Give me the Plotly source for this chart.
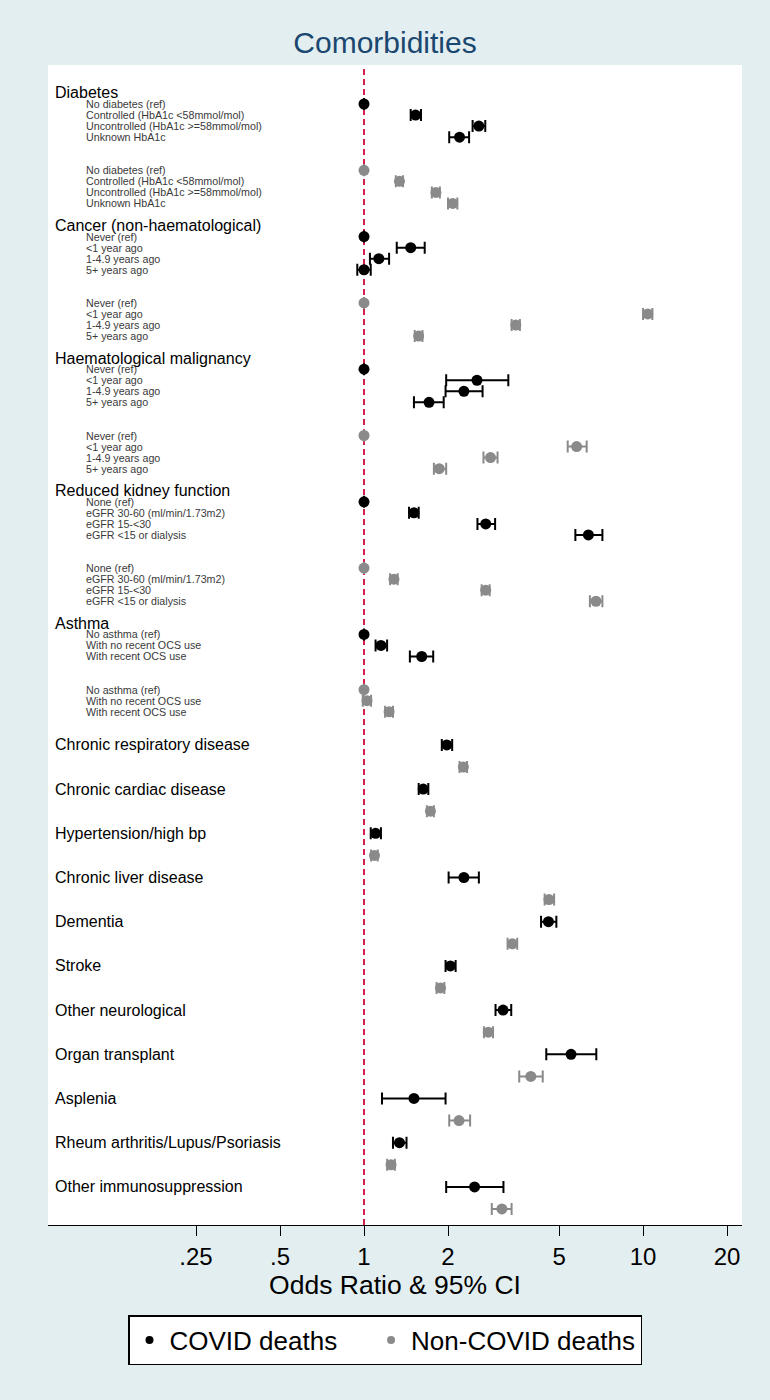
import plotly.graph_objects as go

# ---------------- data ----------------
group_headers = ["Diabetes", "Cancer (non-haematological)", "Haematological malignancy",
                 "Reduced kidney function", "Asthma"]
group_items = [
    ["No diabetes (ref)", "Controlled (HbA1c <58mmol/mol)", "Uncontrolled (HbA1c >=58mmol/mol)", "Unknown HbA1c"],
    ["Never (ref)", "<1 year ago", "1-4.9 years ago", "5+ years ago"],
    ["Never (ref)", "<1 year ago", "1-4.9 years ago", "5+ years ago"],
    ["None (ref)", "eGFR 30-60 (ml/min/1.73m2)", "eGFR 15-<30", "eGFR <15 or dialysis"],
    ["No asthma (ref)", "With no recent OCS use", "With recent OCS use"],
]
single_labels = ["Chronic respiratory disease", "Chronic cardiac disease", "Hypertension/high bp",
                 "Chronic liver disease", "Dementia", "Stroke", "Other neurological",
                 "Organ transplant", "Asplenia", "Rheum arthritis/Lupus/Psoriasis",
                 "Other immunosuppression"]

# COVID deaths: grouped comorbidities (one list per group)
covid_group_or = [[1.0, 1.53, 2.58, 2.20], [1.0, 1.47, 1.13, 1.0], [1.0, 2.54, 2.28, 1.71],
                  [1.0, 1.51, 2.73, 6.37], [1.0, 1.15, 1.61]]
covid_group_lo = [[1.0, 1.47, 2.45, 2.02], [1.0, 1.31, 1.05, 0.946], [1.0, 1.97, 1.96, 1.51],
                  [1.0, 1.45, 2.55, 5.72], [1.0, 1.10, 1.46]]
covid_group_hi = [[1.0, 1.60, 2.72, 2.38], [1.0, 1.65, 1.23, 1.057], [1.0, 3.29, 2.66, 1.93],
                  [1.0, 1.57, 2.95, 7.15], [1.0, 1.21, 1.77]]
# Non-COVID deaths: grouped comorbidities
noncovid_group_or = [[1.0, 1.34, 1.81, 2.08], [1.0, 10.4, 3.50, 1.57], [1.0, 5.78, 2.84, 1.86],
                     [1.0, 1.28, 2.73, 6.78], [1.0, 1.025, 1.23]]
noncovid_group_lo = [[1.0, 1.30, 1.75, 2.00], [1.0, 10.0, 3.38, 1.52], [1.0, 5.37, 2.68, 1.78],
                     [1.0, 1.24, 2.64, 6.45], [1.0, 0.99, 1.19]]
noncovid_group_hi = [[1.0, 1.38, 1.87, 2.16], [1.0, 10.8, 3.62, 1.62], [1.0, 6.28, 3.01, 1.97],
                     [1.0, 1.32, 2.82, 7.15], [1.0, 1.06, 1.27]]

# single comorbidities
covid_single_or = [1.98, 1.63, 1.10, 2.28, 4.58, 2.04, 3.15, 5.52, 1.51, 1.34, 2.49]
covid_single_lo = [1.90, 1.57, 1.057, 2.01, 4.31, 1.96, 2.96, 4.50, 1.16, 1.27, 1.97]
covid_single_hi = [2.07, 1.70, 1.15, 2.58, 4.89, 2.13, 3.37, 6.80, 1.96, 1.42, 3.16]
noncovid_single_or = [2.27, 1.73, 1.09, 4.60, 3.40, 1.88, 2.79, 3.96, 2.19, 1.25, 3.12]
noncovid_single_lo = [2.20, 1.68, 1.06, 4.44, 3.27, 1.82, 2.69, 3.60, 2.02, 1.21, 2.87]
noncovid_single_hi = [2.34, 1.78, 1.12, 4.80, 3.54, 1.94, 2.90, 4.37, 2.40, 1.29, 3.38]

tick_vals = [0.25, 0.5, 1, 2, 5, 10, 20]
tick_text = [".25", ".5", "1", "2", "5", "10", "20"]

# ---------------- layout of rows ----------------
FONT = "Liberation Sans, Arial, sans-serif"
BLACK = "#000000"
GREY = "#8A8A8A"

cy, cx, clo, chi = [], [], [], []
ny, nx, nlo, nhi = [], [], [], []
annotations = []

HEAD_X = 0.0072
ITEM_X = 0.0519

r = 0
for gi, header in enumerate(group_headers):
    items = group_items[gi]
    n = len(items)
    annotations.append(dict(x=HEAD_X, y=r, xref="paper", yref="y", text=header, showarrow=False,
                            xanchor="left", yanchor="middle", font=dict(size=16, color="black", family=FONT)))
    for k in range(n):
        yc = r + 1 + k
        yn = r + n + 3 + k
        cy.append(yc); cx.append(covid_group_or[gi][k]); clo.append(covid_group_lo[gi][k]); chi.append(covid_group_hi[gi][k])
        ny.append(yn); nx.append(noncovid_group_or[gi][k]); nlo.append(noncovid_group_lo[gi][k]); nhi.append(noncovid_group_hi[gi][k])
        for yy in (yc, yn):
            annotations.append(dict(x=ITEM_X, y=yy, xref="paper", yref="y", text=items[k], showarrow=False,
                                    xanchor="left", yanchor="middle",
                                    font=dict(size=10.7, color="#3a3a3a", family=FONT)))
    r = r + 2 * n + 4

s = r + 1
for k, lab in enumerate(single_labels):
    yc = s + 4 * k
    yn = yc + 2
    cy.append(yc); cx.append(covid_single_or[k]); clo.append(covid_single_lo[k]); chi.append(covid_single_hi[k])
    ny.append(yn); nx.append(noncovid_single_or[k]); nlo.append(noncovid_single_lo[k]); nhi.append(noncovid_single_hi[k])
    annotations.append(dict(x=HEAD_X, y=yc, xref="paper", yref="y", text=lab, showarrow=False,
                            xanchor="left", yanchor="middle", font=dict(size=16, color="black", family=FONT)))

fig = go.Figure()

def add_series(xs, ys, lo, hi, color, name, legend_name):
    fig.add_trace(go.Scatter(
        x=xs, y=ys, mode="markers", name=name, showlegend=False,
        marker=dict(color=color, size=11, symbol="circle", line=dict(width=0)),
        error_x=dict(type="data", symmetric=False,
                     array=[h - v for h, v in zip(hi, xs)],
                     arrayminus=[v - l for v, l in zip(xs, lo)],
                     color=color, thickness=2, width=6),
    ))
    # legend entry
    fig.add_trace(go.Scatter(x=[None], y=[None], mode="markers", name=legend_name,
                             marker=dict(color=color, size=8)))

NBSP = "\u00a0"
add_series(cx, cy, clo, chi, BLACK, "COVID deaths", "COVID deaths" + NBSP * 4)
add_series(nx, ny, nlo, nhi, GREY, "Non-COVID deaths", "Non-COVID deaths")

fig.add_vline(x=1, line=dict(color="#D4204E", width=2, dash="6px,4px"), layer="below")

fig.update_layout(
    width=770, height=1400,
    margin=dict(l=48, r=28, t=65, b=175),
    paper_bgcolor="#E3EEF0", plot_bgcolor="white",
    font=dict(family=FONT, color="black"),
    title=dict(text="Comorbidities", x=0.5, xanchor="center", y=1 - 42 / 1400, yanchor="middle",
               font=dict(size=30, color="#1A476F", family=FONT)),
    showlegend=True,
    legend=dict(orientation="h", x=0.4856, xanchor="center", y=-0.0776, yanchor="top",
                bgcolor="white", bordercolor="black", borderwidth=1.5,
                font=dict(size=26, family=FONT), itemwidth=30),
    annotations=annotations,
)
fig.update_xaxes(type="log", range=[-1.1325, 1.3546], tickvals=tick_vals, ticktext=tick_text,
                 ticks="outside", ticklen=10, tickwidth=1, tickcolor="black",
                 showline=True, linecolor="black", linewidth=1, showgrid=False, zeroline=False,
                 tickfont=dict(size=24, family=FONT),
                 title=dict(text="Odds Ratio & 95% CI", font=dict(size=26.5, family=FONT), standoff=2))
fig.update_yaxes(range=[102.45, -2.53], visible=False, showgrid=False, zeroline=False)

fig.write_html("out.html", config={"displayModeBar": False},
               post_script="document.body.style.margin='0';")
